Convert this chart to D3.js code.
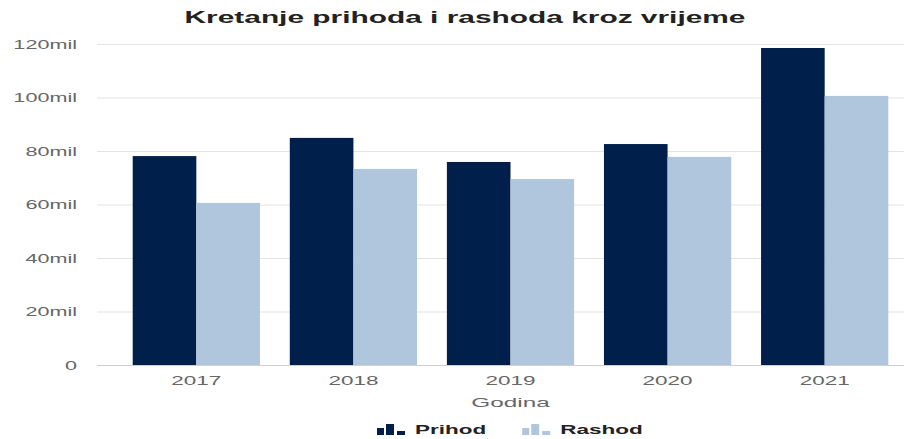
<!DOCTYPE html>
<html>
<head>
<meta charset="UTF-8">
<script src="https://d3js.org/d3.v7.min.js"></script>
<style>
  body { margin: 0; background: #fff; }
  text { font-family: "Liberation Sans", Arial, sans-serif; }
</style>
</head>
<body>
<div id="my_dataviz"></div>
<script>

// chart data
var years = ["2017", "2018", "2019", "2020", "2021"];
var prihod = [78.1, 84.9, 75.9, 82.6, 118.5];
var rashod = [60.6, 73.3, 69.5, 77.8, 100.6];
var seriesNames = ["Prihod", "Rashod"];
var yTicks = [0, 20, 40, 60, 80, 100, 120];

var colors = ["#011f4b", "#b0c6dc"];
var SX = 1.8; // the picture is stretched sideways, text follows

var W = 912, H = 439;
var margin = {top: 44, right: 8, bottom: 74, left: 97};
var plotBottom = H - margin.bottom;

var svg = d3.select("#my_dataviz")
  .append("svg")
    .attr("width", W)
    .attr("height", H);

// put a text at x,y and stretch it horizontally
function placeText(sel, x, y) {
  sel.attr("x", 0).attr("y", 0)
    .attr("transform", "translate(" + x + "," + y + ") scale(" + SX + ",1)");
  return sel;
}

var y = d3.scaleLinear()
  .domain([0, 120])
  .range([plotBottom, margin.top]);

var x0 = d3.scaleBand()
  .domain(years)
  .range([117, 904])
  .paddingInner(0.19)
  .paddingOuter(0.1);

var x1 = d3.scaleBand()
  .domain(seriesNames)
  .range([0, x0.bandwidth()]);

// grid + y labels
var yAxis = svg.append("g")
  .attr("transform", "translate(" + margin.left + ",0)")
  .call(d3.axisLeft(y)
    .tickValues(yTicks)
    .tickSize(-(W - margin.right - margin.left))
    .tickPadding(20)
    .tickFormat(function(d) { return d === 0 ? "0" : d + "mil"; }));

yAxis.select(".domain").remove();
yAxis.selectAll(".tick line")
  .attr("stroke", "#e3e3e3")
  .attr("stroke-width", 1);
yAxis.selectAll(".tick line").filter(function(d) { return d === 0; })
  .attr("stroke", "#cfcfcf");
yAxis.selectAll(".tick text")
  .attr("fill", "#666")
  .style("font-size", "12px")
  .attr("dy", "0.35em")
  .each(function() {
    d3.select(this)
      .attr("transform", "translate(-20,0) scale(" + SX + ",1)")
      .attr("x", 0);
  });

// bars
var rows = years.map(function(yr, i) {
  return {year: yr, values: [prihod[i], rashod[i]]};
});

var groups = svg.selectAll("g.year")
  .data(rows)
  .enter()
  .append("g")
    .attr("class", "year")
    .attr("transform", function(d) { return "translate(" + x0(d.year) + ",0)"; });

groups.selectAll("rect")
  .data(function(d) { return d.values.map(function(v, k) { return {name: seriesNames[k], value: v, k: k}; }); })
  .enter()
  .append("rect")
    .attr("x", function(d) { return x1(d.name); })
    .attr("y", function(d) { return y(d.value); })
    .attr("width", x1.bandwidth())
    .attr("height", function(d) { return plotBottom - y(d.value); })
    .attr("fill", function(d) { return colors[d.k]; });

// x labels
svg.selectAll("text.xlab")
  .data(years)
  .enter()
  .append("text")
    .attr("class", "xlab")
    .attr("text-anchor", "middle")
    .attr("fill", "#666")
    .style("font-size", "12.5px")
    .text(function(d) { return d; })
    .each(function(d) { placeText(d3.select(this), x0(d) + x0.bandwidth() / 2, 385); });

// axis title
placeText(svg.append("text")
  .attr("text-anchor", "middle")
  .attr("fill", "#666")
  .style("font-size", "13.5px")
  .text("Godina"), (117 + 904) / 2, 407);

// chart title
placeText(svg.append("text")
  .attr("text-anchor", "middle")
  .attr("fill", "#222")
  .style("font-size", "16.6px")
  .style("font-weight", "bold")
  .text("Kretanje prihoda i rashoda kroz vrijeme"), 465, 23);

// legend
var legend = svg.append("g").attr("transform", "translate(377,435)");
var lx = 0;
var icon = [[0, 7, 7], [9, 8, 11], [20, 8, 4]];
seriesNames.forEach(function(name, k) {
  var item = legend.append("g").attr("transform", "translate(" + lx + ",0)");
  icon.forEach(function(b) {
    item.append("rect")
      .attr("x", b[0]).attr("y", -b[2])
      .attr("width", b[1]).attr("height", b[2])
      .attr("fill", colors[k]);
  });
  var t = placeText(item.append("text")
    .attr("fill", "#222")
    .style("font-size", "12.5px")
    .style("font-weight", "bold")
    .text(name), 38, -1);
  var w = t.node().getComputedTextLength() * SX;
  lx += 38 + w + 36;
});

</script>
</body>
</html>
